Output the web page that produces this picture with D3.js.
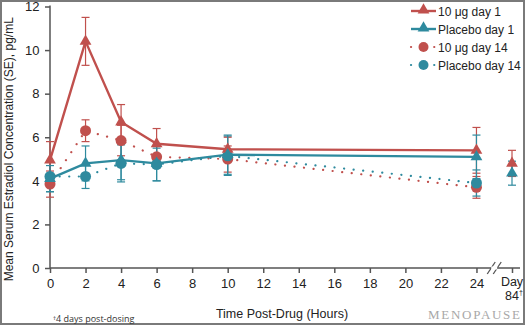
<!DOCTYPE html>
<html><head><meta charset="utf-8">
<script src="https://cdn.jsdelivr.net/npm/d3@7"></script>
<style>
html,body{margin:0;padding:0;background:#fff;}
svg{display:block;font-family:"Liberation Sans",Arial,sans-serif;}
</style></head>
<body>
<svg id="c" width="525" height="325"></svg>
<script>
// ---- data ----
const hours = [0, 2, 4, 6, 10, 24];
const xTicks = [0, 2, 4, 6, 8, 10, 12, 14, 16, 18, 20, 22, 24];
const yTicks = [0, 2, 4, 6, 8, 10, 12];
const dayPos = 26; // plotted position of "Day 84"
const seriesNames = ["10 μg day 1", "Placebo day 1", "10 μg day 14", "Placebo day 14"];
const red1 = [4.95, 10.4, 6.7, 5.7, 5.45, 5.4];
const red1SE = [0.85, 1.1, 0.8, 0.7, 0.55, 1.05];
const pbo1 = [4.1, 4.8, 4.95, 4.8, 5.2, 5.1];
const pbo1SE = [0.6, 0.8, 0.9, 0.8, 0.9, 1.0];
const red14 = [3.85, 6.3, 5.85, 5.1, 5.0, 3.7];
const red14SE = [0.6, 0.5, 0.7, 0.5, 0.6, 0.5];
const pbo14 = [4.2, 4.2, 4.8, 4.75, 5.15, 3.9];
const pbo14SE = [0.7, 0.55, 0.85, 0.75, 0.9, 0.6];
const day84Red = 4.8, day84RedSE = 0.6;
const day84Pbo = 4.35, day84PboSE = 0.55;

const RED = "#c0504d", TEAL = "#2e8a9e";

const svg = d3.select("#c");
const x = d3.scaleLinear().domain([0, 26]).range([50, 512]);
const y = d3.scaleLinear().domain([0, 12]).range([268, 6.5]);

// frame
svg.append("rect").attr("x", 1).attr("y", 1).attr("width", 523).attr("height", 323)
  .attr("fill", "none").attr("stroke", "#7a7a7a").attr("stroke-width", 2);

// axes
const gx = svg.append("g").attr("transform", `translate(0,${y(0)})`)
  .call(d3.axisBottom(x).tickValues(xTicks.concat([dayPos])).tickSize(5).tickSizeOuter(0).tickFormat(d => d === dayPos ? "" : d));
const gy = svg.append("g").attr("transform", `translate(${x(0)},0)`)
  .call(d3.axisLeft(y).tickValues(yTicks).tickSize(5).tickSizeOuter(0));
gx.selectAll(".tick").filter(d => d === dayPos).select("text").remove();
gx.select(".domain").attr("d", `M${x(0)},0H${x(26.45)}`);
gy.select(".domain").attr("d", `M0,${y(0)}V${y(12) - 1}`);
[gx, gy].forEach(g => {
  g.selectAll(".domain,line").attr("stroke", "#555").attr("stroke-width", 1.5);
  g.selectAll("text").attr("font-size", 13).attr("fill", "#222").attr("font-family", "Liberation Sans, Arial, sans-serif");
});
gx.selectAll("text").attr("dy", "0.95em");
gy.selectAll("text").attr("dx", "-0.2em");

// Day 84 label (two separate lines)
svg.append("text").attr("x", x(dayPos)).attr("y", y(0) + 18).attr("text-anchor", "middle")
  .attr("font-size", 12.5).attr("fill", "#222").text("Day");
const dl2 = svg.append("text").attr("x", x(dayPos) + 2).attr("y", y(0) + 32).attr("text-anchor", "middle")
  .attr("font-size", 12.5).attr("fill", "#222");
dl2.append("tspan").text("84");
dl2.append("tspan").text("†").attr("font-size", 7).attr("dy", -5);

// axis break marks
const bx = x(25);
[-3, 3].forEach(o => {
  svg.append("line").attr("x1", bx + o - 4).attr("y1", y(0) + 6).attr("x2", bx + o + 4).attr("y2", y(0) - 6)
    .attr("stroke", "#555").attr("stroke-width", 1.3);
});
svg.append("rect").attr("x", bx - 3).attr("y", y(0) - 1.5).attr("width", 6).attr("height", 3).attr("fill", "#fff");

// titles
svg.append("text").attr("transform", `translate(13,${(y(0) + y(12)) / 2 + 12}) rotate(-90)`)
  .attr("text-anchor", "middle").attr("font-size", 12).attr("fill", "#222")
  .text("Mean Serum Estradiol Concentration (SE), pg/mL");
svg.append("text").attr("x", 282).attr("y", 318).attr("text-anchor", "middle")
  .attr("font-size", 12.5).attr("fill", "#222").text("Time Post-Drug (Hours)");
const fn = svg.append("text").attr("x", 53).attr("y", 322).attr("font-size", 9)
  .attr("fill", "#333").attr("font-family", "Open Sans, Liberation Sans, sans-serif");
fn.append("tspan").text("†").attr("font-size", 6).attr("dy", -2);
fn.append("tspan").text("4 days post-dosing").attr("dy", 2);
svg.append("text").attr("x", 428).attr("y", 319).attr("font-size", 13)
  .attr("font-family", "Liberation Serif, Times New Roman, serif").attr("fill", "#a8a8a8")
  .attr("textLength", 92).attr("lengthAdjust", "spacing").text("MENOPAUSE");

// series
const series = [
  {vals: red1, se: red1SE, color: RED, dotted: false, shape: "tri", d84: day84Red, d84se: day84RedSE},
  {vals: pbo1, se: pbo1SE, color: TEAL, dotted: false, shape: "tri", d84: day84Pbo, d84se: day84PboSE},
  {vals: red14, se: red14SE, color: RED, dotted: true, shape: "circ"},
  {vals: pbo14, se: pbo14SE, color: TEAL, dotted: true, shape: "circ"}
];
const line = d3.line().x(d => x(d[0])).y(d => y(d[1]));
const tri = d3.symbol().type(d3.symbolTriangle).size(60);

function styleLine(p, s) {
  p.attr("fill", "none").attr("stroke", s.color);
  if (s.dotted) p.attr("stroke-width", 2.2).attr("stroke-dasharray", "0.1,9.5").attr("stroke-linecap", "round");
  else p.attr("stroke-width", 2.4);
}
function marker(g, s, px, py) {
  if (s.shape === "tri") g.append("path").attr("d", tri).attr("transform", `translate(${px},${py})`).attr("fill", s.color);
  else g.append("circle").attr("cx", px).attr("cy", py).attr("r", 5.5).attr("fill", s.color);
}
function errbar(g, s, t, v, e) {
  const px = x(t);
  g.append("line").attr("x1", px).attr("x2", px).attr("y1", y(v - e)).attr("y2", y(v + e))
    .attr("stroke", s.color).attr("stroke-width", 1.2);
  [v - e, v + e].forEach(yy => g.append("line").attr("x1", px - 4).attr("x2", px + 4)
    .attr("y1", y(yy)).attr("y2", y(yy)).attr("stroke", s.color).attr("stroke-width", 1.2));
}

const gl = svg.append("g"), ge = svg.append("g"), gm = svg.append("g");
[2, 3, 0, 1].forEach(i => {
  const s = series[i];
  const pts = hours.map((h, j) => [h, s.vals[j]]);
  styleLine(gl.append("path").attr("d", line(pts)), s);
  pts.forEach((p, j) => errbar(ge, s, p[0], p[1], s.se[j]));
  if (s.d84 !== undefined) errbar(ge, s, dayPos, s.d84, s.d84se);
});
[2, 3, 0, 1].forEach(i => {
  const s = series[i];
  hours.forEach((h, j) => marker(gm, s, x(h), y(s.vals[j])));
  if (s.d84 !== undefined) marker(gm, s, x(dayPos), y(s.d84));
});

// legend
const lg = svg.append("g");
series.forEach((s, i) => {
  const ly = 11 + i * 18;
  const p = lg.append("path").attr("d", `M411,${ly}H436`);
  styleLine(p, s);
  if (s.dotted) p.attr("stroke-dasharray", "0.1,11.5");
  if (s.shape === "tri") lg.append("path").attr("d", tri).attr("transform", `translate(423.5,${ly - 1})`).attr("fill", s.color);
  else lg.append("circle").attr("cx", 423.5).attr("cy", ly).attr("r", 5).attr("fill", s.color);
  lg.append("text").attr("x", 438).attr("y", ly + 4.5).attr("font-size", 12).attr("fill", "#222").text(seriesNames[i]);
});
</script>
</body></html>
